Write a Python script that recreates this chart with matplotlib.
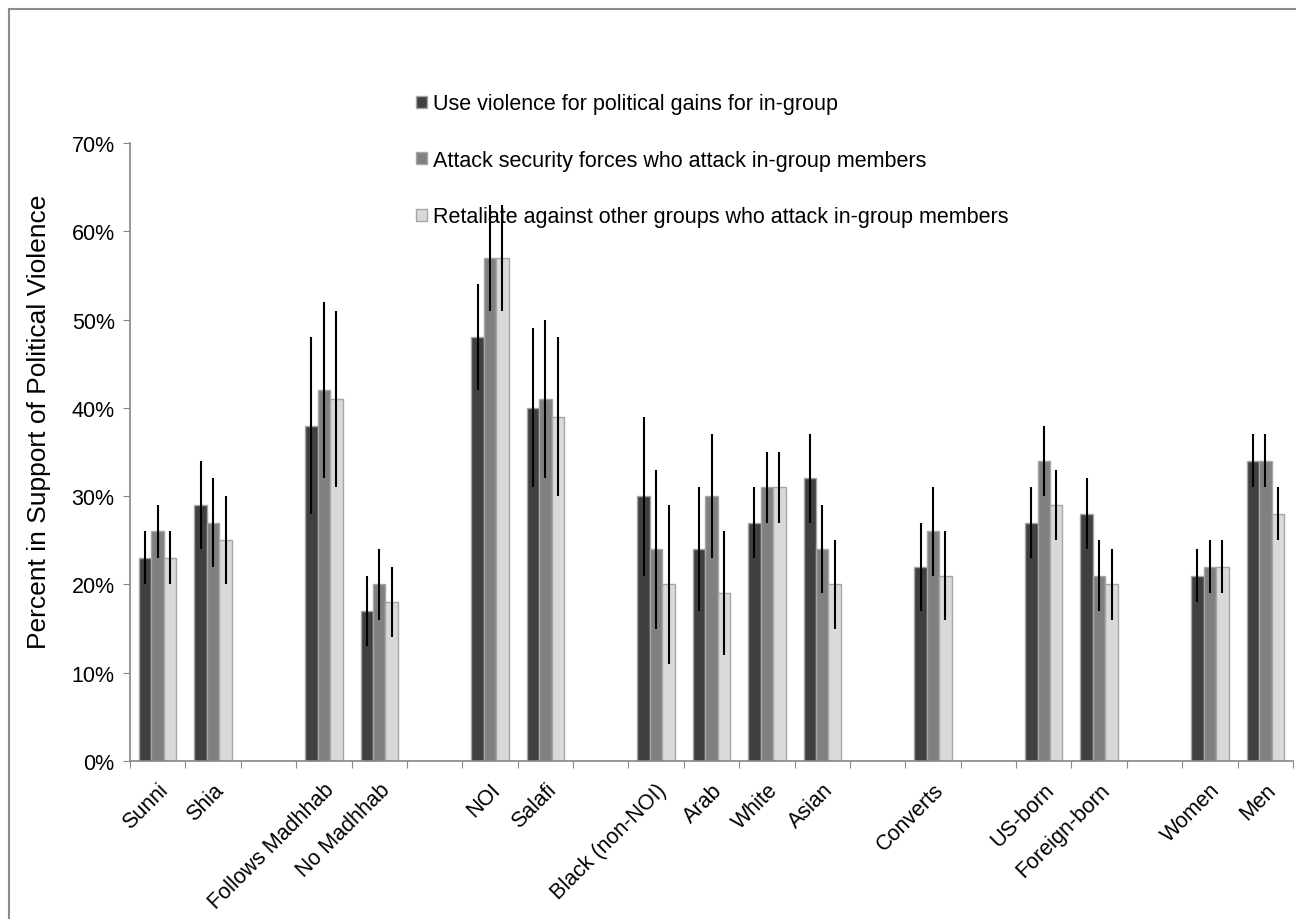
"""Grouped bar chart: support for political violence by subgroup, three question types."""

import matplotlib.pyplot as plt
import numpy as np
from matplotlib.patches import Rectangle
from matplotlib.transforms import ScaledTranslation

plt.rcParams["font.family"] = ["Liberation Sans", "DejaVu Sans"]

# Categories in display order; "" marks an empty spacer slot between groups
categories = [
    "Sunni", "Shia", "",
    "Follows Madhhab", "No Madhhab", "",
    "NOI", "Salafi", "",
    "Black (non-NOI)", "Arab", "White", "Asian", "",
    "Converts", "",
    "US-born", "Foreign-born", "",
    "Women", "Men",
]

series_labels = [
    "Use violence for political gains for in-group",
    "Attack security forces who attack in-group members",
    "Retaliate against other groups who attack in-group members",
]

# Percent values (NaN for spacer slots)
nan = np.nan
violence_gains = [23, 29, nan, 38, 17, nan, 48, 40, nan, 30, 24, 27, 32, nan, 22, nan, 27, 28, nan, 21, 34]
attack_security = [26, 27, nan, 42, 20, nan, 57, 41, nan, 24, 30, 31, 24, nan, 26, nan, 34, 21, nan, 22, 34]
retaliate_groups = [23, 25, nan, 41, 18, nan, 57, 39, nan, 20, 19, 31, 20, nan, 21, nan, 29, 20, nan, 22, 28]

# Half-width of the confidence interval, in percentage points
err_gains = [3, 5, nan, 10, 4, nan, 6, 9, nan, 9, 7, 4, 5, nan, 5, nan, 4, 4, nan, 3, 3]
err_security = [3, 5, nan, 10, 4, nan, 6, 9, nan, 9, 7, 4, 5, nan, 5, nan, 4, 4, nan, 3, 3]
err_retaliate = [3, 5, nan, 10, 4, nan, 6, 9, nan, 9, 7, 4, 5, nan, 5, nan, 4, 4, nan, 3, 3]

colors = ["#404040", "#808080", "#d9d9d9"]
FS = 15.5

fig = plt.figure(figsize=(12.96, 9.2), dpi=100)
ax = fig.add_axes([130 / 1296, 158 / 920, 1163 / 1296, 618 / 920])

x = np.arange(len(categories))
width = 0.225
values = [violence_gains, attack_security, retaliate_groups]
errors = [err_gains, err_security, err_retaliate]

for k, (vals, errs, col, lab) in enumerate(zip(values, errors, colors, series_labels)):
    v = np.array(vals, dtype=float) / 100
    e = np.array(errs, dtype=float) / 100
    pos = x + (k - 1) * width
    mask = ~np.isnan(v)
    ax.bar(pos[mask], v[mask], width, color=col, edgecolor="#a6a6a6", linewidth=1.0, label=lab, zorder=2)
    ax.errorbar(pos[mask], v[mask], yerr=e[mask], fmt="none", ecolor="black", elinewidth=1.5, capsize=0, zorder=3)

ax.set_xlim(-0.5, len(categories) - 0.5)
ax.set_ylim(0, 0.70)
yt = np.arange(0, 0.71, 0.1)
ax.set_yticks(yt)
ax.set_yticklabels([f"{int(round(t * 100))}%" for t in yt], fontsize=FS)

# Tick marks sit between categories; labels go under bar-group centers
ax.set_xticks(np.arange(-0.5, len(categories), 1.0))
ax.set_xticklabels([])
ax.set_xticks(x, minor=True)
ax.set_xticklabels(categories, minor=True, rotation=45, ha="right", rotation_mode="anchor", fontsize=FS)
shift = ScaledTranslation(2 / 72, 0, fig.dpi_scale_trans)
for lbl in ax.get_xticklabels(minor=True):
    lbl.set_transform(lbl.get_transform() + shift)
ax.tick_params(axis="x", which="minor", length=0, pad=13)
ax.tick_params(axis="x", which="major", length=5, color="#868686")
ax.tick_params(axis="y", length=5, color="#868686", pad=6)

for side in ["top", "right"]:
    ax.spines[side].set_visible(False)
for side in ["left", "bottom"]:
    ax.spines[side].set_color("#868686")
    ax.spines[side].set_linewidth(1.2)

ax.set_ylabel("Percent in Support of Political Violence", fontsize=19)
ax.yaxis.set_label_coords(-0.0675, 0.55)

leg = ax.legend(
    loc="upper left",
    bbox_to_anchor=(397 / 1296, 1 - 75 / 920),
    bbox_transform=fig.transFigure,
    frameon=False,
    fontsize=FS,
    handlelength=0.5,
    handleheight=0.5,
    handletextpad=0.28,
    labelspacing=1.65,
)

# Outer frame around the chart area
fig.patches.append(
    Rectangle((9 / 1296, -0.05), 1.2, 1 - 10 / 920 + 0.05, transform=fig.transFigure,
              fill=False, edgecolor="#8c8c8c", linewidth=1.5)
)

fig.savefig("out.png", dpi=100)
